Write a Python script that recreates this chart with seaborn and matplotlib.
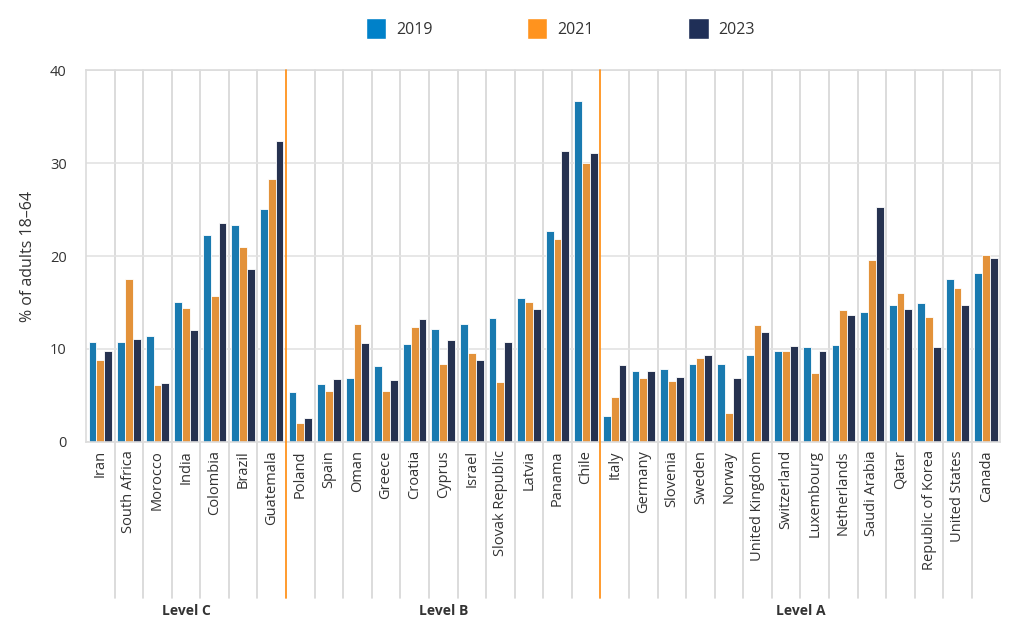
import pandas as pd
import numpy as np
import matplotlib
matplotlib.use("Agg")
import matplotlib.pyplot as plt
import seaborn as sns
from matplotlib.patches import Patch

countries = ["Iran", "South Africa", "Morocco", "India", "Colombia", "Brazil", "Guatemala",
             "Poland", "Spain", "Oman", "Greece", "Croatia", "Cyprus", "Israel",
             "Slovak Republic", "Latvia", "Panama", "Chile",
             "Italy", "Germany", "Slovenia", "Sweden", "Norway", "United Kingdom",
             "Switzerland", "Luxembourg", "Netherlands", "Saudi Arabia", "Qatar",
             "Republic of Korea", "United States", "Canada"]
v2019 = [10.7, 10.8, 11.4, 15.0, 22.3, 23.3, 25.1,
         5.4, 6.2, 6.9, 8.2, 10.5, 12.2, 12.7, 13.3, 15.5, 22.7, 36.7,
         2.8, 7.6, 7.8, 8.4, 8.4, 9.3, 9.8, 10.2, 10.4, 14.0, 14.7, 14.9, 17.5, 18.2]
v2021 = [8.8, 17.5, 6.1, 14.4, 15.7, 21.0, 28.3,
         2.0, 5.5, 12.7, 5.5, 12.4, 8.4, 9.6, 6.4, 15.1, 21.8, 30.0,
         4.8, 6.9, 6.6, 9.0, 3.1, 12.6, 9.8, 7.4, 14.2, 19.6, 16.0, 13.4, 16.6, 20.1]
v2023 = [9.8, 11.1, 6.3, 12.0, 23.6, 18.6, 32.4,
         2.6, 6.8, 10.6, 6.7, 13.2, 11.0, 8.8, 10.8, 14.3, 31.3, 31.1,
         8.3, 7.6, 7.0, 9.4, 6.9, 11.8, 10.3, 9.8, 13.7, 25.3, 14.3, 10.2, 14.7, 19.8]
years = ["2019", "2021", "2023"]
groups = ["Level C", "Level B", "Level A"]
group_sizes = [7, 11, 14]

colors = ["#0081C9", "#FF931E", "#1F2F57"]

df = pd.DataFrame({"country": countries, "2019": v2019, "2021": v2021, "2023": v2023})
long = df.melt(id_vars="country", var_name="year", value_name="value")

sns.set_style("white")
plt.rcParams["font.family"] = ["Open Sans", "DejaVu Sans"]
txt = "#333333"

fig = plt.figure(figsize=(10.24, 6.33), dpi=100)
ax = fig.add_axes([0.084, 0.302, 0.893, 0.587])

sns.barplot(data=long, x="country", y="value", hue="year", palette=colors,
            order=countries, hue_order=years, width=0.82, edgecolor="white",
            linewidth=0.6, ax=ax, legend=False)

ax.set_ylim(0, 40)
ax.set_xlim(-0.5, len(countries) - 0.5)
ax.set_yticks([0, 10, 20, 30, 40])
ax.yaxis.grid(True, color="#e3e3e3", linewidth=1.2)
ax.set_axisbelow(True)
for s in ["left", "right", "top", "bottom"]:
    ax.spines[s].set_color("#dcdcdc")
    ax.spines[s].set_linewidth(1.2)
ax.tick_params(axis="y", labelsize=10.5, colors=txt, length=0, pad=14)
ax.tick_params(axis="x", labelsize=10.5, colors=txt, length=0, pad=6, rotation=90)
ax.set_xlabel("")
ax.set_ylabel("% of adults 18\u201364", fontsize=11.5, color=txt, labelpad=10)

# separators
bounds = np.cumsum(group_sizes)[:-1] - 0.5
trans = ax.get_xaxis_transform()
for i in range(len(countries) - 1):
    xb = i + 0.5
    if xb in bounds:
        ax.plot([xb, xb], [-0.42, 1], transform=trans, color="#FF931E",
                linewidth=1.3, clip_on=False, zorder=3)
    else:
        ax.plot([xb, xb], [-0.42, 1], transform=trans, color="#d6d6d6",
                linewidth=1.2, clip_on=False, zorder=0)

start = -0.5
for g, n in zip(groups, group_sizes):
    ax.text(start + n / 2, -0.455, g, transform=trans, ha="center", va="center",
            fontsize=10, fontweight="bold", color=txt)
    start += n

handles = [Patch(facecolor=c, label=y) for c, y in zip(colors, years)]
fig.legend(handles=handles, loc="center", bbox_to_anchor=(0.547, 0.955), ncol=3,
           frameon=False, fontsize=11.5, handlelength=1.3, handleheight=1.6,
           columnspacing=5.9, handletextpad=0.6, labelcolor=txt)

fig.savefig("out.png", dpi=100)
